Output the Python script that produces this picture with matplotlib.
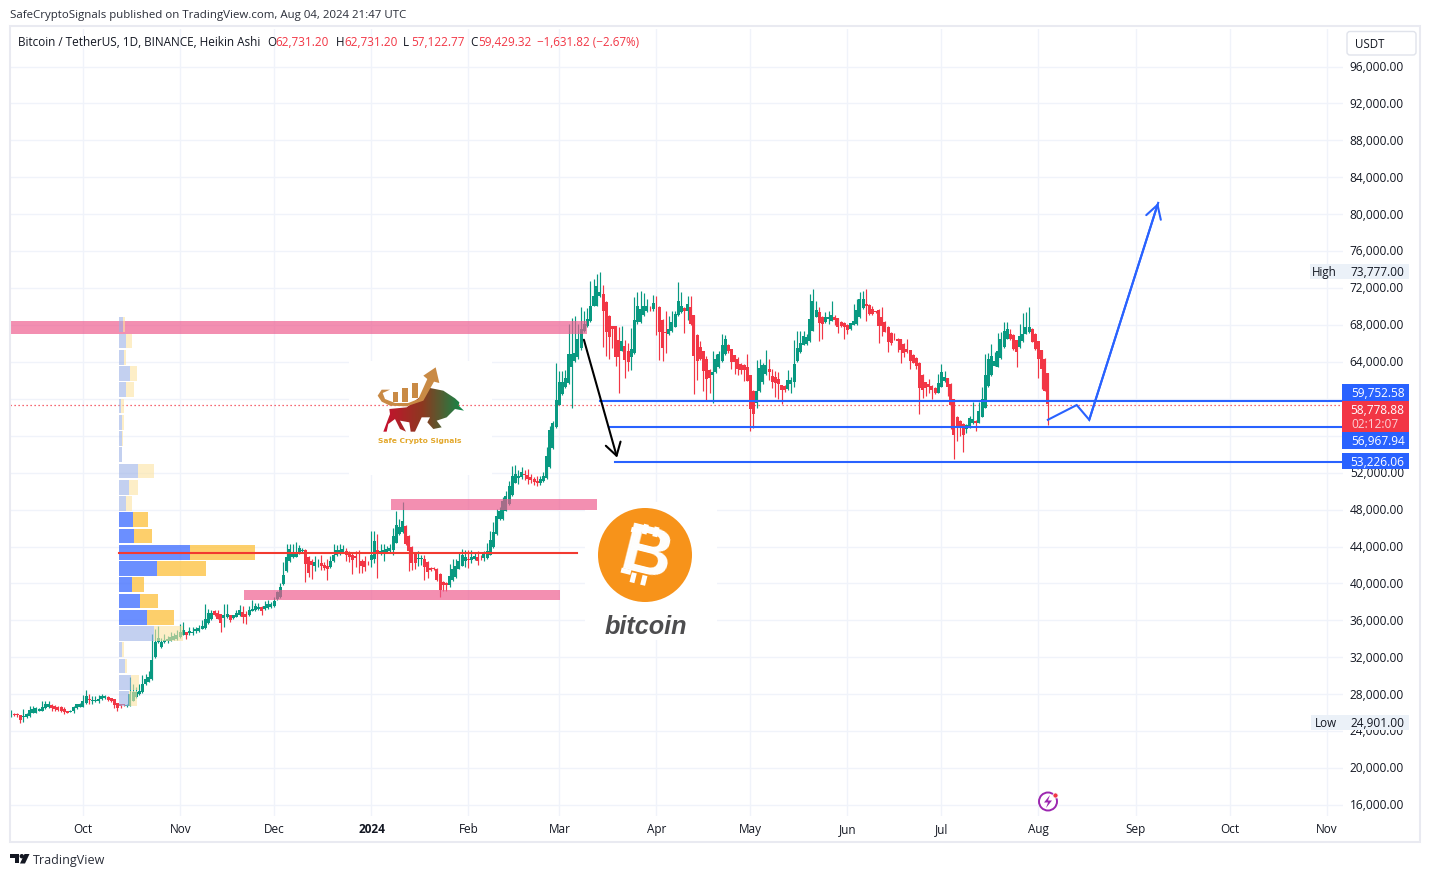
import matplotlib
matplotlib.use("Agg")
import matplotlib.pyplot as plt
import numpy as np
from matplotlib.patches import Rectangle, Circle, Polygon, FancyBboxPatch, FancyArrowPatch
from matplotlib.transforms import Affine2D, ScaledTranslation

# Heikin Ashi daily candles, thousands of USDT, first candle 8 Sep 2023
ha_open = [25.68,25.82,25.79,25.75,25.46,25.46,25.57,25.93,25.97,26.18,
26.18,26.47,26.55,26.83,26.65,26.62,26.55,26.4,26.18,26.04,
26.18,26.44,26.62,26.62,26.98,27.45,27.2,27.27,27.23,27.41,
27.55,27.7,27.55,27.45,26.98,26.9,26.9,26.65,26.73,27.27,
27.63,27.95,28.17,29.07,29.33,29.6,32.03,33.6,33.05,33.6,
33.7,33.77,33.88,33.9,34.13,34.4,34.7,34.55,34.6,34.8,
34.85,35.03,35.1,35.65,36.1,37.0,36.75,36.65,36.2,36.3,
36.55,36.2,36.35,36.5,36.9,36.65,36.5,37.0,37.1,37.15,
37.4,37.2,37.3,37.4,37.5,38.3,38.46,39.9,41.3,42.4,
42.8,42.85,43.3,43.5,43.6,42.85,42.4,41.9,42.15,42.2,
41.95,41.9,41.7,42.4,43.0,43.15,43.35,43.5,43.35,43.05,
42.95,42.85,42.4,42.4,42.2,42.55,42.6,43.6,43.15,43.35,
43.4,43.45,43.6,44.4,45.3,45.5,46.2,45.15,43.95,43.15,
42.6,42.6,42.6,42.25,41.65,41.65,41.55,41.0,40.1,40.0,
39.75,40.3,40.65,41.55,41.9,42.45,42.65,42.55,42.6,42.85,
42.75,42.7,42.7,43.1,43.9,45.3,46.9,46.9,47.85,48.6,
49.5,50.9,51.4,51.5,51.8,51.75,51.5,51.3,51.1,50.9,
51.1,51.4,52.6,54.6,56.9,59.3,60.5,61.2,61.65,63.45,
64.1,64.45,65.45,67.3,67.9,68.45,70.05,70.05,71.1,71.3,
70.5,68.9,67.85,67.85,66.3,65.2,65.7,65.15,64.45,64.9,
68.25,68.3,69.0,69.5,69.75,69.65,70.05,69.95,68.55,67.2,
66.95,67.3,67.8,69.0,69.35,69.8,69.45,69.95,69.05,66.9,
65.6,65.1,64.3,63.1,62.6,62.85,63.4,64.1,64.85,65.75,
65.35,64.7,64.3,63.75,63.65,63.4,62.55,60.85,59.5,60.85,
61.75,62.65,63.2,62.4,62.3,62.1,61.45,61.4,61.0,61.6,
61.75,64.1,65.0,65.84,65.9,66.2,67.35,68.87,69.35,68.8,
68.25,68.6,68.45,68.87,68.7,68.3,68.2,68.0,67.5,68.0,
68.1,68.8,69.8,70.25,70.15,69.65,69.45,69.6,68.8,68.3,
67.8,67.15,66.5,66.45,66.45,65.9,65.35,65.25,64.75,64.4,
63.9,62.6,61.75,61.6,61.4,61.15,60.65,61.3,61.85,62.2,
61.6,59.95,58.05,57.6,57.25,56.7,56.9,57.3,57.6,57.4,
58.0,59.0,61.4,62.5,63.55,63.45,64.4,65.55,66.45,67.0,
66.9,66.3,65.55,66.2,67.0,67.2,67.55,67.0,66.2,65.25,
64.3,62.73]
ha_close = [25.86,25.71,25.68,25.21,25.57,25.82,26.29,26.4,26.44,26.36,
26.62,26.87,26.94,26.47,26.33,26.29,26.18,26.0,25.97,26.18,
26.62,26.87,26.87,27.27,27.74,27.34,27.38,27.38,27.41,27.77,
27.77,27.34,27.27,26.83,26.47,26.65,26.8,26.83,28.0,28.24,
28.17,28.35,29.07,29.65,29.8,31.67,33.66,34.1,33.6,33.85,
34.0,34.2,34.3,34.4,34.75,34.96,34.4,34.8,34.75,35.0,
35.1,35.4,36.1,36.8,36.8,36.5,36.15,35.65,36.5,36.65,
36.05,36.5,36.75,37.1,36.35,36.35,37.1,37.2,37.55,37.45,
37.0,37.5,37.75,37.75,38.05,39.0,39.6,40.9,42.85,43.7,
43.2,43.3,43.8,43.6,42.07,41.1,42.0,42.25,42.2,41.9,
41.6,41.55,42.4,43.0,43.6,43.6,43.7,43.0,42.85,42.55,
42.7,42.8,41.9,41.8,42.15,43.1,44.6,43.15,43.5,43.6,
43.7,43.8,45.15,46.35,46.05,46.77,44.2,43.5,42.2,42.15,
42.7,42.75,41.7,41.25,41.4,41.55,40.35,39.3,39.75,39.75,
40.8,41.55,41.9,42.45,43.1,42.8,42.55,42.85,42.95,42.45,
42.7,43.15,43.5,44.7,45.5,47.3,47.85,48.9,49.4,50.55,
51.65,51.8,51.6,52.0,51.7,51.3,51.2,51.0,50.9,51.3,
51.6,53.8,56.6,57.3,59.8,61.75,61.75,62.2,64.8,64.8,
64.9,66.45,67.55,68.1,68.6,70.05,71.1,72.2,71.5,69.5,
67.2,66.65,67.55,64.55,64.5,66.2,64.2,64.0,65.4,68.5,
70.05,69.7,70.05,70.05,69.7,70.3,70.0,67.2,65.5,67.15,
67.55,68.3,69.2,70.6,70.05,69.45,70.25,68.05,64.65,64.1,
64.3,63.0,62.1,62.2,62.9,64.25,64.8,65.75,66.4,65.1,
63.95,63.95,63.2,63.1,63.1,61.95,58.85,58.3,60.85,63.3,
63.65,63.65,62.85,61.75,61.65,61.55,60.9,60.9,62.0,62.05,
63.75,65.5,65.98,66.8,66.7,68.6,70.6,69.6,68.15,68.1,
68.87,68.8,69.1,68.5,67.8,67.85,67.7,67.45,68.15,68.45,
69.6,70.8,70.8,70.0,69.15,69.15,69.4,67.9,67.9,67.25,
66.1,66.0,66.4,66.2,65.3,64.9,65.0,64.1,63.9,63.55,
61.1,60.95,61.15,61.2,60.9,60.55,61.7,62.85,62.35,61.2,
59.3,56.0,56.9,56.9,56.0,57.15,57.9,57.8,57.3,58.6,
59.95,62.55,64.3,64.65,64.05,65.2,66.45,67.35,67.5,66.4,
65.35,65.0,66.8,67.0,67.8,67.8,66.15,65.35,64.3,63.2,
60.85,59.43]
ha_high = [26.29,25.9,25.9,25.75,26.36,25.9,26.73,26.73,26.55,26.5,
27.27,27.27,27.27,26.9,26.75,26.7,26.65,26.6,26.2,26.25,
26.7,26.95,27.0,27.92,28.46,27.99,27.8,27.8,27.9,28.0,
27.9,27.8,27.6,27.5,27.0,26.95,26.95,26.9,29.87,29.07,
28.7,29.07,30.05,30.16,30.5,34.5,35.03,35.4,34.1,34.5,
34.3,34.7,34.6,34.9,35.6,35.83,34.75,35.3,35.2,35.3,
35.5,36.0,37.74,37.2,37.1,37.05,37.1,36.7,37.75,37.75,
36.6,36.6,37.1,37.6,37.5,37.0,37.5,38.15,37.9,37.9,
37.5,38.1,38.2,38.0,38.5,39.2,40.0,42.3,44.2,44.2,
44.2,44.5,44.1,43.85,43.7,42.9,42.6,42.95,42.6,43.0,
42.3,42.6,42.9,44.2,44.1,44.2,44.1,43.85,43.5,43.4,
43.5,43.6,42.6,42.95,42.4,45.7,45.7,45.35,44.2,44.2,
44.0,44.2,46.0,47.85,47.0,48.8,46.3,45.2,44.0,43.2,
43.5,43.0,43.0,42.35,41.7,41.7,41.6,41.05,40.2,40.1,
42.05,42.65,42.65,43.4,43.7,43.6,43.6,43.55,43.3,43.45,
43.0,43.5,44.4,45.7,46.6,48.0,48.2,49.3,50.0,51.1,
52.7,52.8,52.3,52.6,52.3,52.4,51.8,51.5,51.6,51.6,
52.0,54.8,57.0,57.6,63.8,63.0,63.0,63.1,68.1,68.7,
68.9,68.1,69.9,69.5,69.8,72.7,72.95,73.5,73.7,72.3,
70.55,69.0,67.9,67.9,67.8,67.9,66.3,66.0,67.6,70.95,
71.55,71.7,71.4,70.8,70.05,71.25,71.15,70.0,68.6,69.5,
68.9,69.5,69.5,72.6,71.5,69.9,71.15,71.15,69.1,67.0,
66.2,65.1,64.6,63.2,65.2,64.85,65.2,67.0,66.85,65.95,
65.4,64.75,64.5,63.8,63.7,64.8,62.6,60.9,64.2,64.3,
63.8,65.3,64.3,63.2,63.0,62.9,61.5,61.5,63.1,62.3,
66.3,67.35,67.35,67.35,66.95,71.3,71.85,70.6,69.95,68.9,
69.35,69.45,70.6,69.0,68.75,68.35,68.25,68.1,68.2,70.25,
70.8,71.5,71.7,71.85,70.2,70.05,69.5,69.65,69.9,68.4,
67.85,67.2,67.1,66.6,66.5,66.0,66.45,65.3,64.8,64.45,
63.95,62.65,61.8,62.1,61.45,61.2,62.65,63.75,63.0,62.25,
61.65,60.0,58.1,57.65,57.3,57.2,58.1,59.6,57.65,59.6,
61.2,64.85,64.9,65.9,65.0,67.15,67.25,68.25,68.25,67.5,
67.0,66.35,68.1,69.25,69.35,69.95,67.6,67.05,66.25,65.3,
64.35,62.73]
ha_low = [25.46,25.64,25.46,24.81,25.0,25.4,25.5,25.9,25.9,26.1,
26.15,26.4,26.5,26.18,26.1,26.2,26.05,25.8,25.9,26.0,
25.95,26.4,26.55,26.6,26.9,26.9,26.95,27.1,27.05,27.35,
27.5,27.25,27.1,26.44,26.2,26.5,26.7,26.6,26.65,27.2,
27.55,27.9,28.1,29.0,29.3,29.5,31.9,33.5,33.0,33.5,
33.5,33.7,33.8,33.8,34.1,34.35,34.0,34.4,34.4,34.6,
34.75,35.0,35.0,35.6,36.0,36.4,36.1,34.7,35.2,36.2,
35.75,36.1,36.3,36.4,35.65,35.55,36.4,36.95,37.0,37.1,
36.6,37.1,37.25,37.3,37.4,38.2,38.4,39.8,41.2,42.3,
42.7,42.8,43.2,43.3,40.1,40.7,40.5,41.35,41.8,41.45,
41.4,40.3,41.6,42.3,42.95,43.1,43.3,42.4,42.3,41.0,
41.7,41.1,41.05,41.3,42.0,41.8,42.2,40.6,43.1,42.4,
43.3,43.4,43.0,44.3,45.2,45.4,44.1,41.35,41.4,41.5,
41.9,41.95,40.3,40.6,41.3,41.45,40.2,38.5,39.2,39.2,
39.6,40.2,40.6,41.5,41.85,41.7,41.65,42.2,42.5,42.0,
42.5,42.4,42.6,43.0,43.8,45.2,46.8,46.8,47.8,48.5,
49.4,50.8,50.7,51.3,51.2,50.7,50.9,50.6,50.5,50.6,
51.0,51.3,52.5,54.5,56.8,59.3,60.4,61.1,61.6,59.0,
64.0,64.3,65.3,67.2,67.8,68.3,70.0,70.0,71.0,65.55,
64.65,64.3,65.5,63.5,60.6,65.1,62.2,63.0,63.1,64.8,
68.1,68.2,68.9,69.4,69.5,69.5,66.9,64.2,64.05,64.9,
66.9,67.25,67.7,68.9,69.3,67.1,68.5,68.0,60.5,62.0,
64.2,60.85,59.75,60.6,59.5,62.8,63.35,64.0,64.7,64.95,
63.2,62.7,62.5,62.7,61.9,61.9,56.5,56.85,59.0,60.7,
61.6,62.55,62.0,61.1,60.2,60.0,59.4,60.7,60.9,60.6,
61.2,64.0,64.9,65.8,65.85,66.1,67.3,68.8,66.2,66.45,
68.2,68.1,68.4,68.0,67.05,67.7,66.45,67.0,67.45,67.95,
68.0,68.7,69.7,68.35,69.1,69.1,69.3,66.0,66.8,67.2,
65.0,65.85,66.35,65.0,63.9,64.5,64.9,63.25,63.8,63.2,
58.3,60.05,60.3,60.6,59.95,60.5,60.6,61.25,61.8,60.3,
56.7,53.4,55.45,55.9,54.2,56.25,56.8,57.2,56.45,57.3,
57.95,58.95,61.3,62.4,63.5,63.4,64.3,65.5,66.4,66.35,
65.3,63.4,65.5,66.15,66.95,67.1,66.1,65.3,62.2,61.05,
60.8,57.12]

price_ticks = list(range(16, 97, 4))
month_pos = [23, 54, 84, 115, 146, 175, 206, 236, 267, 297, 328, 359, 389, 420]
month_labels = ["Oct", "Nov", "Dec", "2024", "Feb", "Mar", "Apr", "May", "Jun", "Jul", "Aug", "Sep", "Oct", "Nov"]

# visible-range volume profile, top bin to bottom bin
vp_top = 68.87
vp_step = 1.76
vp_up = [4, 7, 5, 11, 7, 2, 3, 3, 3, 19, 10, 7, 14, 15, 71, 38, 13, 21, 28, 35, 3, 6, 12, 10]
vp_down = [2, 6, 2, 7, 8, 3, 2, 1, 0, 16, 9, 6, 15, 18, 65, 49, 12, 18, 27, 29, 2, 2, 8, 8]
vp_value_area = [12, 13, 14, 15, 16, 17, 18]

support_levels = [59.7, 56.92, 53.15]
support_starts = [188, 190.9, 192.8]
support_labels = ["59,752.58", "56,967.94", "53,226.06"]
zones = [(67.0, 68.43, -0.3, 183.9), (47.96, 49.15, 121.3, 187.1), (38.2, 39.3, 74.4, 175.3)]
last_close = 59.35
poc_level = 43.3
path_x = [331, 340.2, 344.2, 366.2]
path_y = [57.7, 59.3, 57.7, 81.2]
drop_x = [182.9, 193.5]
drop_y = [66.37, 53.6]

W, H = 1430, 878
GREEN, RED, BLUE = "#089981", "#f23645", "#2962ff"
UI = "Open Sans"
INK = "#131722"

fig = plt.figure(figsize=(W / 100, H / 100), dpi=100, facecolor="white")
ax = fig.add_axes([10 / W, (H - 816.7) / H, 1333 / W, 787 / H], zorder=1)
ov = fig.add_axes([0, 0, 1, 1], zorder=2)
ov.set_xlim(0, W); ov.set_ylim(H, 0); ov.axis("off"); ov.patch.set_alpha(0)

def px_shift(dx, dy):
    return ScaledTranslation(dx / 100, dy / 100, fig.dpi_scale_trans)

ax.set_xlim(-0.29, 425.2)
ax.set_ylim(14.81, 100.07)
for s in ax.spines.values():
    s.set_visible(False)
ax.set_axisbelow(True)
ax.grid(True, color="#f0f3fa", lw=1)
ax.yaxis.tick_right()
ax.set_yticks(price_ticks)
ax.set_yticklabels([f"{t},000.00" for t in price_ticks], ha="right", fontsize=8.6, color=INK, family=UI)
ax.set_xticks(month_pos)
ax.set_xticklabels(month_labels, fontsize=8.5, color=INK, family=UI)
ax.tick_params(axis="both", length=0)
ax.tick_params(axis="y", pad=43.9)
ax.tick_params(axis="x", pad=4.3)
for t in ax.get_yticklabels():
    t.set_transform(t.get_transform() + px_shift(0, 1.4))
for t, lab in zip(ax.get_xticklabels(), month_labels):
    t.set_transform(t.get_transform() + px_shift(0.3, 0))
    if lab == "2024":
        t.set_fontweight("bold")
for g in ax.get_ygridlines():
    g.set_transform(g.get_transform() + px_shift(0, -0.3))

# white image backings that hide the grid
ax.add_patch(Rectangle((349, 362), 143, 114, transform=ov.transData, fc="white", ec="none", zorder=1.5))
ax.add_patch(Rectangle((585, 503), 132, 138, transform=ov.transData, fc="white", ec="none", zorder=1.5))

# candles
idx = np.arange(len(ha_close))
o, c, hi, lo = map(np.array, (ha_open, ha_close, ha_high, ha_low))
cols = np.where(c >= o, GREEN, RED)
ax.vlines(idx, lo, hi, colors=cols, lw=0.85, zorder=3)
ax.bar(idx, np.abs(c - o), bottom=np.minimum(o, c), width=0.96, color=cols, lw=0, zorder=3)

# volume profile, drawn over the candles
u2d = 1 / 3.133
for k, (up, dn) in enumerate(zip(vp_up, vp_down)):
    y0 = vp_top - (k + 1) * vp_step + 0.08
    strong = k in vp_value_area
    ax.barh(y0, up * u2d, height=vp_step - 0.16, left=34.5, align="edge",
            color="#4673ff" if strong else "#9bb1e6", alpha=0.8 if strong else 0.6, lw=0, zorder=4)
    ax.barh(y0, dn * u2d, height=vp_step - 0.16, left=34.5 + up * u2d, align="edge",
            color="#fdc446" if strong else "#fde4a3", alpha=0.8 if strong else 0.6, lw=0, zorder=4)

# zones and lines
for lo_z, hi_z, x0, x1 in zones:
    ax.add_patch(Rectangle((x0, lo_z), x1 - x0, hi_z - lo_z, fc="#ee5a8d", alpha=0.68, ec="none", zorder=3.5))
ax.plot([34.5, 180.7], [poc_level, poc_level], color="#f23a30", lw=1.5, zorder=5)
ax.plot([-0.29, 425.2], [last_close, last_close], color=RED, lw=0.9, ls=(0, (1, 2.2)), zorder=2)
for lev, x0 in zip(support_levels, support_starts):
    ax.plot([x0, 425.2], [lev, lev], color=BLUE, lw=1.5, zorder=5)

ax.plot(path_x, path_y, color=BLUE, lw=1.5, zorder=6, solid_joinstyle="miter")
ax.add_patch(FancyArrowPatch((path_x[-2], path_y[-2]), (path_x[-1], path_y[-1]), arrowstyle="->,head_length=9.5,head_width=5.5",
                             color=BLUE, lw=1.5, shrinkA=0, shrinkB=0, zorder=6))
ax.add_patch(FancyArrowPatch((drop_x[0], drop_y[0]), (drop_x[1], drop_y[1]), arrowstyle="->,head_length=9,head_width=5.5",
                             color="black", lw=1.5, shrinkA=0, shrinkB=0, zorder=6))

def T(x, y, s, color=INK, size=8.3, ha="left", va="center", **kw):
    kw.setdefault("family", UI)
    return ov.text(x, y, s, color=color, fontsize=size, ha=ha, va=va, **kw)

# frame
ov.add_patch(Rectangle((10, 27), 1410, 816, fc="none", ec="#e9eaf1", lw=1.5))

# headings
T(10, 15.5, "SafeCryptoSignals published on TradingView.com, Aug 04, 2024 21:47 UTC", size=8.26, color="#2a2e39")
T(18, 43, "Bitcoin / TetherUS, 1D, BINANCE, Heikin Ashi", size=8.43)
for x, a, b in [(267, "O", "62,731.20"), (336, "H", "62,731.20"), (403, "L", "57,122.77"), (470, "C", "59,429.32")]:
    T(x, 43, a, size=8.4)
    T(x + 8, 43, b, size=8.5, color=RED)
T(537, 43, "\u22121,631.82 (\u22122.67%)", size=8.4, color=RED)

# USDT box
ov.add_patch(FancyBboxPatch((1347, 32.5), 69, 23.5, boxstyle="round,pad=0,rounding_size=3", fc="white", ec="#e0e3eb", lw=1))
T(1355, 45, "USDT", size=8.3)

# price badges
def badge(y0, y1, fc):
    ov.add_patch(Rectangle((1342, y0), 67, y1 - y0, fc=fc, ec="none"))
badge(385, 401.5, BLUE); T(1404.5, 393.8, support_labels[0], color="white", ha="right", size=8.6)
badge(402, 432.5, RED)
T(1404.5, 410.3, "58,778.88", color="white", ha="right", size=8.6)
T(1398, 424.3, "02:12:07", color="#fbd0d5", ha="right", size=8.6)
badge(433, 449.5, BLUE); T(1404.5, 441.8, support_labels[1], color="white", ha="right", size=8.6)
badge(454, 470, BLUE); T(1404.5, 462.8, support_labels[2], color="white", ha="right", size=8.6)

# high / low tags
for y0, txt, val, x0 in [(264.5, "High", "73,777.00", 1310), (715.5, "Low", "24,901.00", 1311)]:
    ov.add_patch(Rectangle((x0, y0), 1409 - x0, 15.5, fc="#ebf1f8", ec="none"))
    T(1336.5, y0 + 8.5, txt, ha="right", size=8.4)
    T(1404.5, y0 + 8.5, val, ha="right", size=8.6)

# Bitcoin logo
ov.add_patch(Circle((645, 556), 47, fc="#f7931a", ec="none", zorder=3))
T(646, 556.5, "B", color="white", size=50, ha="center", va="center", rotation=-14, rotation_mode="anchor",
  family="Liberation Sans", fontweight="bold", zorder=5)
coin = Affine2D().rotate_deg(14).translate(645.5, 556) + ov.transData
for dx, dy, w, h in [(-9, -30, 5, 10), (2, -30, 5, 10), (-9, 20, 5, 10), (2, 20, 5, 10),
                     (-20, -24, 10, 5), (-20, 18, 10, 5)]:
    ov.add_patch(Rectangle((dx, dy), w, h, fc="white", ec="none", transform=coin, zorder=4))
T(645.5, 627, "bitcoin", color="#4d4d4f", size=18.2, ha="center", family="Liberation Sans", fontweight="bold", style="italic")

# Safe Crypto Signals bull logo
def zp(pts):
    return [(340 + x / 3, 360 + y / 3) for x, y in pts]
bull = Polygon(zp([(130,218),(150,165),(148,150),(200,145),(245,110),(270,87),(310,95),(345,118),(358,130),
                   (356,140),(372,155),(345,150),(320,175),(290,185),(305,205),(280,210),(262,190),(270,175),
                   (245,175),(225,218),(212,218),(208,190),(180,185),(198,218),(180,210),(165,180),(145,195),(140,218)]),
               transform=ov.transData, fc="none", ec="none")
ov.add_patch(bull)
grad = np.linspace(0, 1, 64)[None, :]
cm = matplotlib.colors.LinearSegmentedColormap.from_list("bull", ["#c8102e", "#8a3a20", "#0f8a4a"])
im = ov.imshow(grad, extent=(383, 464, 433, 389), cmap=cm, aspect="auto", zorder=3)
im.set_clip_path(bull)
ov.set_xlim(0, W); ov.set_ylim(H, 0)
gold = "#c98a45"
for x0, x1, y0, y1 in [(160, 175, 100, 130), (187, 205, 88, 128), (215, 235, 72, 118)]:
    ov.add_patch(Polygon(zp([(x0, y0), (x1, y0), (x1, y1), (x0, y1)]), fc=gold, ec="none", zorder=3))
ov.add_patch(Polygon(zp([(235,120),(262,60),(250,50),(287,25),(298,72),(282,68),(250,125),(200,142),(150,140),(125,128),(113,110),(125,92),(150,92),(128,102),(135,120),(165,132),(205,132)]),
                     fc=gold, ec="none", zorder=3))
T(420, 441.5, "Safe Crypto Signals", color="#e3a82c", size=5.4, ha="center", fontweight="bold", family="DejaVu Sans")

# alert icon
ov.add_patch(Circle((1048, 802.5), 9, fc="white", ec="#9c27b0", lw=1.4, zorder=3))
ov.add_patch(Polygon([(1050, 796), (1044, 803.5), (1048, 803.5), (1046, 809), (1052, 801.5), (1048, 801.5)], fc="#9c27b0", ec="none", zorder=4))
ov.add_patch(Circle((1055.5, 796.5), 2.6, fc="#f23645", ec="white", lw=0.6, zorder=5))

# TradingView mark
ov.add_patch(Polygon([(10, 855), (19, 855), (19, 864.5), (14.5, 864.5), (14.5, 859), (10, 859)], fc="#131722", ec="none"))
ov.add_patch(Circle((21.8, 857.2), 2.2, fc="#131722", ec="none"))
ov.add_patch(Polygon([(24.5, 855), (29.5, 855), (25, 864.5), (20, 864.5)], fc="#131722", ec="none"))
T(33, 861, "TradingView", size=9.0, color="#2a2e39")

fig.savefig("out.png", dpi=100, facecolor="white")
